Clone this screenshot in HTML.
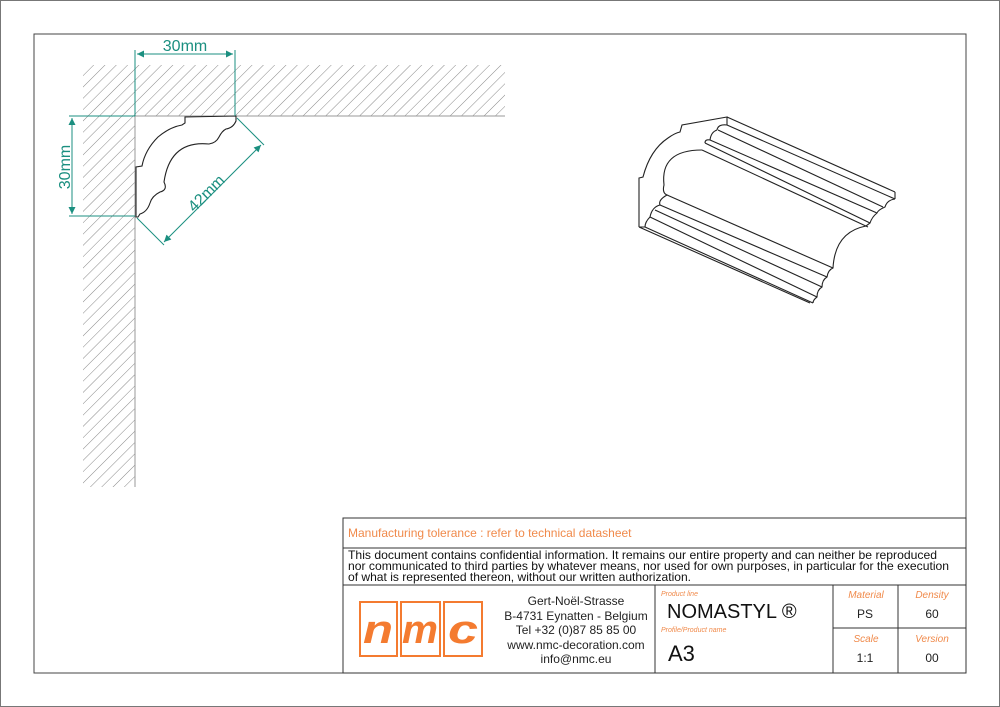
<!DOCTYPE html>
<html><head><meta charset="utf-8"><style>
html,body{margin:0;padding:0;background:#fff}
svg{display:block}
text{font-family:"Liberation Sans",sans-serif}
</style></head><body>
<svg width="1000" height="707" viewBox="0 0 1000 707" xmlns="http://www.w3.org/2000/svg">
<defs>
<pattern id="h" patternUnits="userSpaceOnUse" width="8" height="8" patternTransform="rotate(45)">
<line x1="0" y1="0" x2="0" y2="8" stroke="#888" stroke-width="1"/>
</pattern>
<marker id="a" viewBox="0 0 10 10" refX="10" refY="5" markerWidth="9" markerHeight="7" orient="auto-start-reverse" markerUnits="userSpaceOnUse"><path d="M0,0 L10,5 L0,10 z" fill="#1b8f80"/></marker>
</defs>
<rect x="0.5" y="0.5" width="999" height="706" fill="#fff" stroke="#777"/>
<rect x="34" y="34" width="932" height="639" fill="none" stroke="#444"/>

<rect x="83" y="65" width="422" height="51" fill="url(#h)"/>
<rect x="83" y="116" width="52" height="371" fill="url(#h)"/>
<line x1="135" y1="116" x2="505" y2="116" stroke="#999"/>
<line x1="135" y1="116" x2="135" y2="487" stroke="#999"/>

<path d="M136,217 L136,167 L142,166 Q145,150 158,137 Q170,127 182,125 L185,123 L185,117 L236,116 L236,121 Q233,128 226,129 Q222,131 219,137 Q216,143 209,144 Q170,140 164,182 Q168,190 160,192 Q152,196 150,203 Q147,212 140,214 L138,217 Z" fill="#fff" stroke="#222" stroke-width="1.1"/>

<g stroke="#1b8f80" stroke-width="1" fill="none">
<line x1="135" y1="50" x2="135" y2="116"/><line x1="235" y1="50" x2="235" y2="116"/>
<line x1="137" y1="54" x2="233" y2="54" marker-start="url(#a)" marker-end="url(#a)"/>
<line x1="69" y1="116" x2="135" y2="116"/><line x1="69" y1="216" x2="135" y2="216"/>
<line x1="72" y1="118" x2="72" y2="214" marker-start="url(#a)" marker-end="url(#a)"/>
<line x1="237" y1="118" x2="264" y2="145"/><line x1="137" y1="218" x2="164" y2="245"/>
<line x1="261" y1="145" x2="164" y2="242" marker-start="url(#a)" marker-end="url(#a)"/>
</g>
<g fill="#1b8f80" font-size="16">
<text x="185" y="51" text-anchor="middle">30mm</text>
<text transform="translate(70,167) rotate(-90)" text-anchor="middle">30mm</text>
<text transform="translate(210,197) rotate(-45)" text-anchor="middle">42mm</text>
</g>

<g stroke="#222" stroke-width="1.1" fill="none">
<path d="M639,227 L639,178 L643,177 Q650,150 668,138 Q675,133 680,132 L682,125 L727,117 L727,125 Q718,124 717,130"/>
<path d="M702,150 Q660,150 664,185 Q662,193 667,195 Q658,200 660,205 Q652,207 650,217 Q645,222 645,227 L639,227"/>
<line x1="727" y1="117" x2="895" y2="192"/>
<line x1="727" y1="125" x2="895" y2="199"/>
<line x1="895" y1="192" x2="895" y2="199"/>
<line x1="718" y1="130" x2="883" y2="207"/>
<line x1="710" y1="140" x2="877" y2="213"/>
<line x1="705" y1="143" x2="870" y2="223"/>
<line x1="702" y1="150" x2="868" y2="227"/>
<line x1="667" y1="195" x2="833" y2="268"/>
<line x1="660" y1="205" x2="827" y2="277"/>
<line x1="655" y1="210" x2="822" y2="287"/>
<line x1="650" y1="217" x2="817" y2="297"/>
<line x1="645" y1="227" x2="813" y2="303"/>
<line x1="639" y1="227" x2="810" y2="303"/>
<path d="M895,199 Q887,200 885,207 Q878,210 877,213 Q872,217 870,223 L866,226 Q835,232 833,268 Q828,270 827,277 Q822,280 822,287 Q817,290 817,297 Q813,300 813,303"/>
<path d="M710,140 Q705,139 705,143 M717,130 Q711,132 710,140"/>
</g>

<g stroke="#333" stroke-width="1" fill="none">
<rect x="343" y="518" width="623" height="155"/>
<line x1="343" y1="548" x2="966" y2="548"/>
<line x1="343" y1="585" x2="966" y2="585"/>
<line x1="655" y1="585" x2="655" y2="673"/>
<line x1="833" y1="585" x2="833" y2="673"/>
<line x1="898" y1="585" x2="898" y2="673"/>
<line x1="833" y1="628" x2="966" y2="628"/>
</g>
<text x="348" y="537" font-size="12" fill="#f08a4b">Manufacturing tolerance : refer to technical datasheet</text>
<g font-size="12" fill="#111">
<text x="348" y="559" textLength="589" lengthAdjust="spacingAndGlyphs">This document contains confidential information. It remains our entire property and can neither be reproduced</text>
<text x="348" y="570" textLength="601" lengthAdjust="spacingAndGlyphs">nor communicated to third parties by whatever means, nor used for own purposes, in particular for the execution</text>
<text x="348" y="581" textLength="343" lengthAdjust="spacingAndGlyphs">of what is represented thereon, without our written authorization.</text>
</g>
<g stroke="#f47b30" stroke-width="2" fill="none">
<rect x="360" y="602" width="37" height="54"/>
<rect x="401" y="602" width="39" height="54"/>
<rect x="444" y="602" width="38" height="54"/>
</g>
<g fill="#f47b30" font-size="40" font-weight="bold" font-style="italic" text-anchor="middle">
<text x="378" y="643" textLength="30" lengthAdjust="spacingAndGlyphs">n</text><text x="420" y="643" textLength="36" lengthAdjust="spacingAndGlyphs">m</text><text x="463" y="643" textLength="30" lengthAdjust="spacingAndGlyphs">c</text>
</g>
<g font-size="12" fill="#222" text-anchor="middle">
<text x="576" y="605">Gert-Noël-Strasse</text>
<text x="576" y="620">B-4731 Eynatten - Belgium</text>
<text x="576" y="634">Tel +32 (0)87 85 85 00</text>
<text x="576" y="649">www.nmc-decoration.com</text>
<text x="576" y="663">info@nmc.eu</text>
</g>
<g font-size="7" fill="#f08a4b" font-style="italic">
<text x="661" y="596">Product line</text>
<text x="661" y="632">Profile/Product name</text>
</g>
<text x="667" y="618" font-size="20" fill="#111">NOMASTYL ®</text>
<text x="668" y="661" font-size="22" fill="#111">A3</text>
<g font-size="10" fill="#f08a4b" font-style="italic" text-anchor="middle">
<text x="866" y="598">Material</text><text x="932" y="598">Density</text>
<text x="866" y="642">Scale</text><text x="932" y="642">Version</text>
</g>
<g font-size="12" fill="#222" text-anchor="middle">
<text x="865" y="618">PS</text><text x="932" y="618">60</text>
<text x="865" y="662">1:1</text><text x="932" y="662">00</text>
</g>
</svg>
</body></html>
